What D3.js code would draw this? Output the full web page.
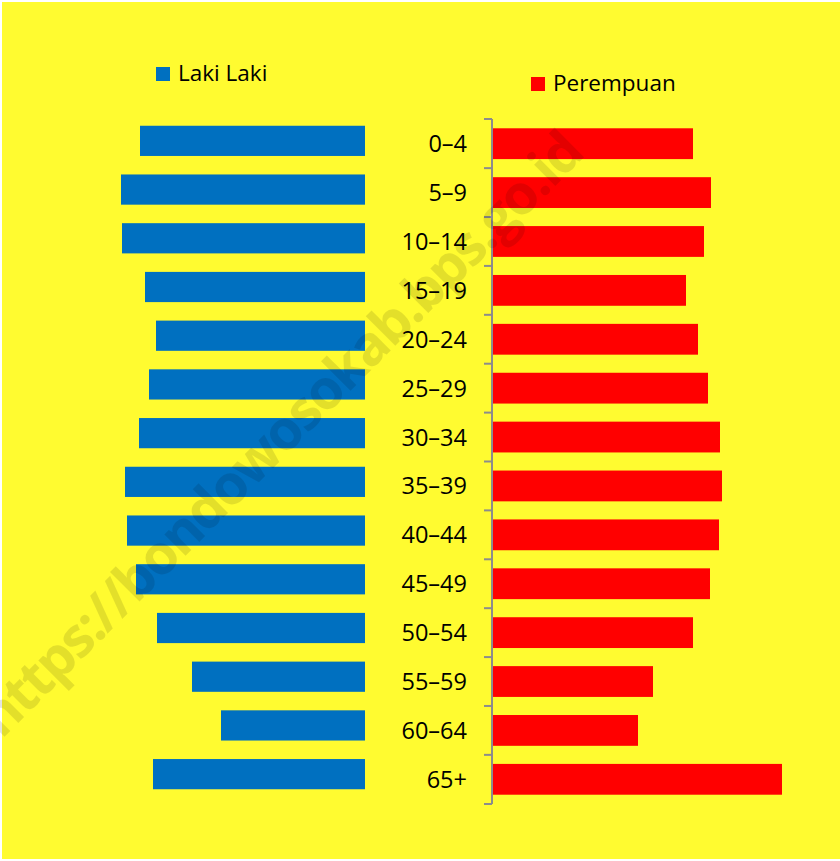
<!DOCTYPE html>
<html>
<head>
<meta charset="utf-8">
<script src="https://cdn.jsdelivr.net/npm/d3@7"></script>
<style>
  html, body { margin: 0; padding: 0; background: #fff; }
  svg { display: block; }
  text { font-family: "Open Sans", "Noto Sans", sans-serif; }
</style>
</head>
<body>
<div class="graph"></div>
<script>
// age groups, top to bottom
const ageGroups = ["0–4", "5–9", "10–14", "15–19", "20–24", "25–29", "30–34",
                   "35–39", "40–44", "45–49", "50–54", "55–59", "60–64", "65+"];
// (persons)
const lakiLaki  = [22500, 24400, 24300, 22000, 20900, 21600, 22600, 24000, 23800, 22900, 20800, 17300, 14400, 21200];
const perempuan = [20000, 21800, 21100, 19300, 20500, 21500, 22700, 22900, 22600, 21700, 20000, 16000, 14500, 28900];
const seriesNames = ["Laki Laki", "Perempuan"];
const seriesColors = ["#0070C0", "#FF0000"];
const watermark = "https://bondowosokab.bps.go.id";

const W = 840, H = 861;

const svg = d3.select(".graph").append("svg")
    .attr("width", W)
    .attr("height", H);

svg.append("rect")
    .attr("x", 2).attr("y", 2)
    .attr("width", W - 2).attr("height", H - 4)
    .attr("fill", "#FFFB30");

// value scales (same units both sides)
const xLeft = d3.scaleLinear().domain([0, 30000]).range([365, 65]);
const xRight = d3.scaleLinear().domain([0, 30000]).range([493, 793]);

// the two halves are slightly offset vertically in the original
const yLeft = d3.scaleBand().domain(ageGroups).range([116.5, 798.5]).paddingInner(0.38).paddingOuter(0.19);
const yRight = d3.scaleBand().domain(ageGroups).range([119, 804]).paddingInner(0.37).paddingOuter(0.19);

svg.append("g").selectAll("rect")
    .data(ageGroups)
    .join("rect")
    .attr("x", (d, i) => xLeft(lakiLaki[i]))
    .attr("y", d => yLeft(d))
    .attr("width", (d, i) => xLeft(0) - xLeft(lakiLaki[i]))
    .attr("height", yLeft.bandwidth())
    .attr("fill", seriesColors[0]);

svg.append("g").selectAll("rect")
    .data(ageGroups)
    .join("rect")
    .attr("x", xRight(0))
    .attr("y", d => yRight(d))
    .attr("width", (d, i) => xRight(perempuan[i]) - xRight(0))
    .attr("height", yRight.bandwidth())
    .attr("fill", seriesColors[1]);

// category axis with ticks at band boundaries
const axisX = 492;
const bounds = ageGroups.map(d => yRight(d) - yRight.step() * yRight.paddingInner() / 2);
bounds[0] = yRight.range()[0];
bounds.push(yRight.range()[1]);

const axis = svg.append("g").attr("stroke", "#8C8C8C").attr("stroke-width", 2);
axis.append("line")
    .attr("x1", axisX).attr("x2", axisX)
    .attr("y1", bounds[0]).attr("y2", bounds[bounds.length - 1]);
axis.selectAll(".tick")
    .data(bounds)
    .join("line")
    .attr("class", "tick")
    .attr("x1", axisX - 8).attr("x2", axisX)
    .attr("y1", d => d).attr("y2", d => d);

svg.append("g").selectAll("text")
    .data(ageGroups)
    .join("text")
    .attr("x", 467)
    .attr("y", d => yRight(d) + yRight.bandwidth() / 2)
    .attr("dy", "0.36em")
    .attr("text-anchor", "end")
    .attr("font-size", 23.5)
    .attr("fill", "#000")
    .text(d => d);

// legends
const legendPos = [[156, 67], [531, 77]];
seriesNames.forEach((name, i) => {
    const g = svg.append("g").attr("transform", `translate(${legendPos[i][0]},${legendPos[i][1]})`);
    g.append("rect").attr("width", 14).attr("height", 14).attr("fill", seriesColors[i]);
    g.append("text")
        .attr("x", 22).attr("y", 14)
        .attr("font-size", 22.5)
        .attr("fill", "#000")
        .text(name);
});

// watermark
svg.append("text")
    .attr("transform", "translate(280,434) rotate(-45)")
    .attr("text-anchor", "middle")
    .attr("dy", "0.35em")
    .attr("font-family", "Liberation Sans, Arial, sans-serif")
    .attr("font-weight", "bold")
    .attr("font-size", 55)
    .attr("letter-spacing", -2)
    .attr("fill", "#000")
    .attr("fill-opacity", 0.11)
    .text(watermark);
</script>
</body>
</html>
